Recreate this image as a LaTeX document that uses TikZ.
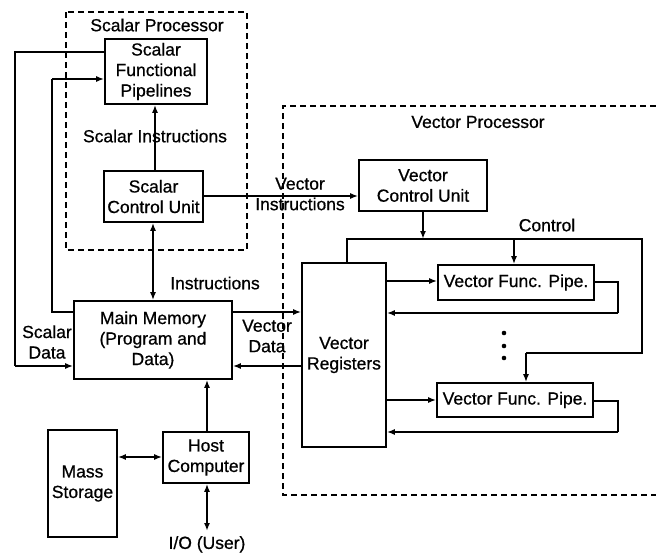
\documentclass[tikz,border=0pt]{standalone}
\usepackage{fontspec}
\setmainfont{Liberation Sans}[FakeBold=0.7]
\usetikzlibrary{arrows.meta}

\begin{document}
\begin{tikzpicture}[x=1pt,y=-1pt,
  font=\fontsize{17.5}{20.5}\selectfont,
  blk/.style={draw, line width=1.6pt, inner sep=0pt, align=center},
  wire/.style={line width=1.6pt},
  arr/.style={wire, -{Latex[length=8pt,width=6pt]}},
  darr/.style={wire, {Latex[length=8pt,width=6pt]}-{Latex[length=8pt,width=6pt]}},
  frame/.style={line width=1.3pt, dash pattern=on 6pt off 4pt},
  lbl/.style={align=center, inner sep=0pt}]

\useasboundingbox (0,0) rectangle (656,554);

% processor frames
\draw[frame] (66,12) rectangle (247,250);
\draw[frame] (656,106) -- (283,106) -- (283,495) -- (656,495);
\node[lbl] (sptitle) at (157,25) {Scalar Processor};
\node[lbl] (vptitle) at (478,122) {Vector Processor};

% blocks
\node[blk, minimum width=102pt, minimum height=65pt] (sfp) at (156,71.5) {Scalar\\Functional\\Pipelines};
\node[blk, minimum width=99pt, minimum height=51pt] (scu) at (153.5,196.5) {Scalar\\Control Unit};
\node[blk, minimum width=158pt, minimum height=78pt] (mm) at (153,340) {Main Memory\\(Program and\\Data)};
\node[blk, minimum width=86pt, minimum height=51pt] (hc) at (206,457.5) {Host\\Computer};
\node[blk, minimum width=69pt, minimum height=107pt] (ms) at (82.5,483.5) {Mass\\Storage};
\node[blk, minimum width=128pt, minimum height=51pt] (vcu) at (423,185.5) {Vector\\Control Unit};
\node[blk, minimum width=84pt, minimum height=184pt] (vr) at (344,355) {Vector\\Registers};
\node[blk, minimum width=156pt, minimum height=35pt] (vfp1) at (516,282.5) {Vector Func. Pipe.};
\node[blk, minimum width=156pt, minimum height=34pt] (vfp2) at (515,400) {Vector Func. Pipe.};

% labels
\node[lbl] (lsi) at (155,136) {Scalar Instructions};
\node[lbl] (lvi) at (300,194) {Vector\\Instructions};
\node[lbl] (lins) at (215,283) {Instructions};
\node[lbl] (lctl) at (547,225) {Control};
\node[lbl] (lsd) at (47,342) {Scalar\\Data};
\node[lbl] (lvd) at (267,336) {Vector\\Data};
\coordinate (io) at (207,531);
\node[lbl, anchor=north] (lio) at (207,536) {I/O (User)};

% scalar side
\draw[wire] (sfp.west |- 0,52) -- (15,52) -- (15,366);
\draw[arr] (15,366) -- (mm.west |- 0,366);
\draw[wire] (mm.west |- 0,312) -- (52,312) -- (52,79);
\draw[arr] (52,79) -- (sfp.west |- 0,79);
\draw[arr] (scu.north -| 155,0) -- (sfp.south -| 155,0);
\draw[darr] (scu.south -| 153,0) -- (mm.north -| 153,0);
\draw[arr] (scu.east |- 0,196) -- (vcu.west |- 0,196);

% memory and host
\draw[arr] (mm.east |- 0,312) -- (vr.west |- 0,312);
\draw[arr] (vr.west |- 0,366) -- (mm.east |- 0,366);
\draw[arr] (hc.north -| 207,0) -- (mm.south -| 207,0);
\draw[darr] (ms.east |- 0,457) -- (hc.west |- 0,457);
\draw[darr] (hc.south -| 207,0) -- (io);

% vector control distribution
\draw[arr] (vcu.south) -- (vcu.south |- 0,239);
\draw[wire] (vr.north -| 347,0) -- (347,239) -- (642,239) -- (642,353) -- (526,353);
\draw[arr] (526,353) -- (vfp2.north -| 526,0);
\draw[arr] (514,239) -- (vfp1.north -| 514,0);

% pipelines
\draw[arr] (vr.east |- 0,281) -- (vfp1.west |- 0,281);
\draw[wire] (vfp1.east |- 0,282) -- (618,282) -- (618,313);
\draw[arr] (618,313) -- (vr.east |- 0,313);
\draw[arr] (vr.east |- 0,400) -- (vfp2.west |- 0,400);
\draw[wire] (vfp2.east |- 0,401) -- (618,401) -- (618,432);
\draw[arr] (618,432) -- (vr.east |- 0,432);

% ellipsis between pipelines
\foreach \yy/\nm in {333/d1,346/d2,358/d3}
  \fill (504,\yy) circle (2.3pt) coordinate (\nm);

\end{tikzpicture}
\end{document}
